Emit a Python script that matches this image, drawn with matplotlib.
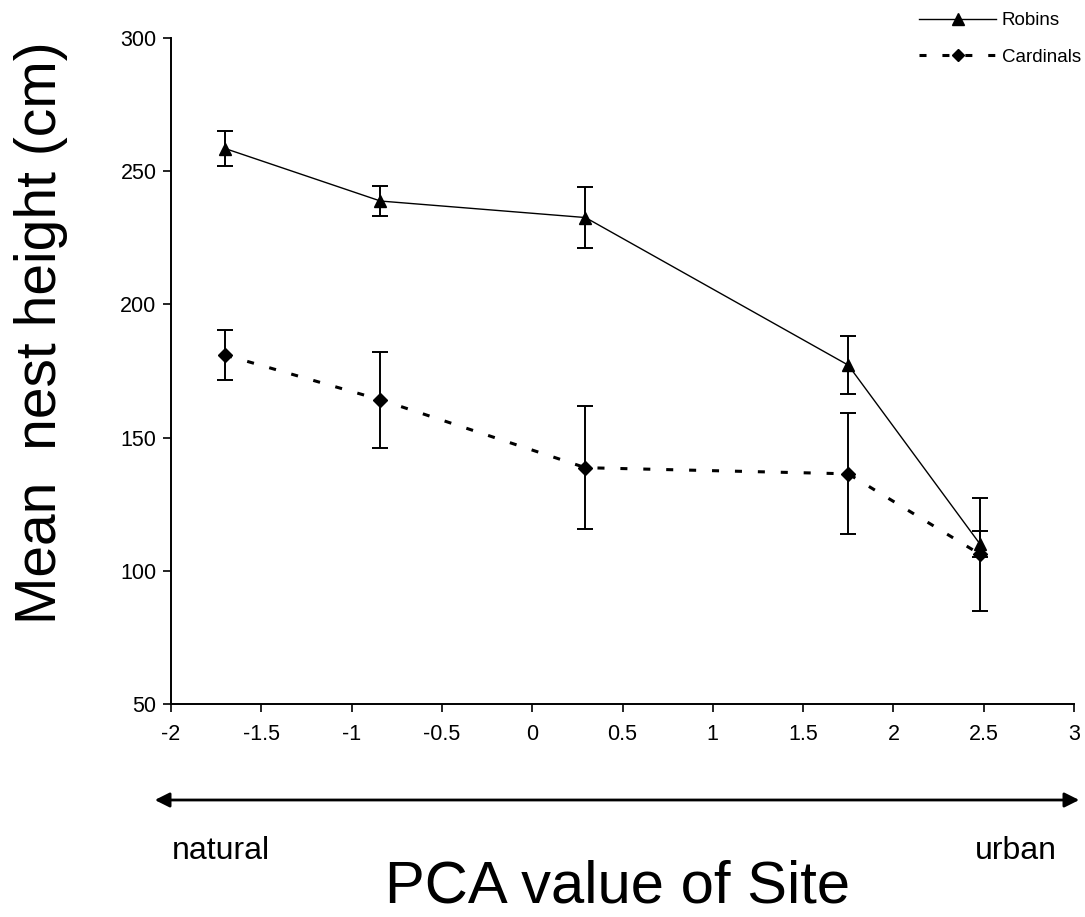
import matplotlib
matplotlib.use("Agg")
import matplotlib.pyplot as plt
from matplotlib.lines import Line2D
from matplotlib.patches import FancyArrowPatch

plt.rcParams['font.family'] = ['Liberation Sans', 'DejaVu Sans']

# Data
pca_x = [-1.70, -0.84, 0.295, 1.75, 2.48]
robins_mean = [258.5, 238.8, 232.6, 177.2, 110.0]
robins_err = [6.5, 5.6, 11.4, 11.0, 5.0]
cardinals_mean = [181.0, 164.2, 138.7, 136.4, 106.2]
cardinals_err = [9.5, 18.0, 23.0, 22.7, 21.3]

xticks = [-2, -1.5, -1, -0.5, 0, 0.5, 1, 1.5, 2, 2.5, 3]
xtick_labels = ['-2', '-1.5', '-1', '-0.5', '0', '0.5', '1', '1.5', '2', '2.5', '3']
yticks = [50, 100, 150, 200, 250, 300]
series_names = ['Robins', 'Cardinals']

W, H = 1085, 917
fig = plt.figure(figsize=(W / 100, H / 100), dpi=100)
ax = fig.add_axes([171 / W, 1 - 704 / H, (1074 - 171) / W, (704 - 38) / H])

dash = (0, (2.3, 5.2))
ax.errorbar(pca_x, robins_mean, yerr=robins_err, color='black', lw=1.0,
            marker='^', markersize=9, ecolor='black', elinewidth=1.4,
            capsize=6, capthick=1.4, label=series_names[0], zorder=3)
ax.errorbar(pca_x, cardinals_mean, yerr=cardinals_err, color='black', lw=2.2,
            linestyle=dash, marker='D', markersize=7,
            ecolor='black', elinewidth=1.4, capsize=6, capthick=1.4,
            label=series_names[1], zorder=3)

ax.set_xlim(-2, 3)
ax.set_ylim(50, 300)
ax.set_xticks(xticks)
ax.set_xticklabels(xtick_labels)
ax.set_yticks(yticks)
for s in ['top', 'right']:
    ax.spines[s].set_visible(False)
for s in ['left', 'bottom']:
    ax.spines[s].set_linewidth(1.4)
ax.tick_params(axis='both', direction='out', length=5.5, width=1.2,
               labelsize=15.5)
ax.tick_params(axis='y', pad=5)
ax.tick_params(axis='x', pad=9)

fig.text(41 / W, 1 - 333 / H, 'Mean  nest height (cm)', fontsize=41,
         rotation=90, ha='center', va='center')

# Legend
handles = [
    Line2D([0], [0], color='black', lw=1.0, marker='^', markersize=8),
    Line2D([0], [0], color='black', lw=2.2, linestyle=dash,
           marker='D', markersize=6),
]
fig.legend(handles, series_names, loc='upper right',
           bbox_to_anchor=(1081 / W, 1 - 12 / H), frameon=False, fontsize=13.5,
           handlelength=4.1, handletextpad=0.3, labelspacing=1.05,
           borderaxespad=0, borderpad=0)

# Natural -> urban arrow
fig.patches.append(FancyArrowPatch(
    (152 / W, 1 - 800 / H), (1082 / W, 1 - 800 / H),
    transform=fig.transFigure, arrowstyle='<|-|>', mutation_scale=22,
    lw=2.0, color='black'))
fig.text(221 / W, 1 - 851 / H, 'natural', fontsize=23, ha='center', va='center')
fig.text(1016 / W, 1 - 851 / H, 'urban', fontsize=23, ha='center', va='center')
fig.text(618 / W, 1 - 887 / H, 'PCA value of Site', fontsize=43,
         ha='center', va='center')

fig.savefig('out.png', dpi=100)
